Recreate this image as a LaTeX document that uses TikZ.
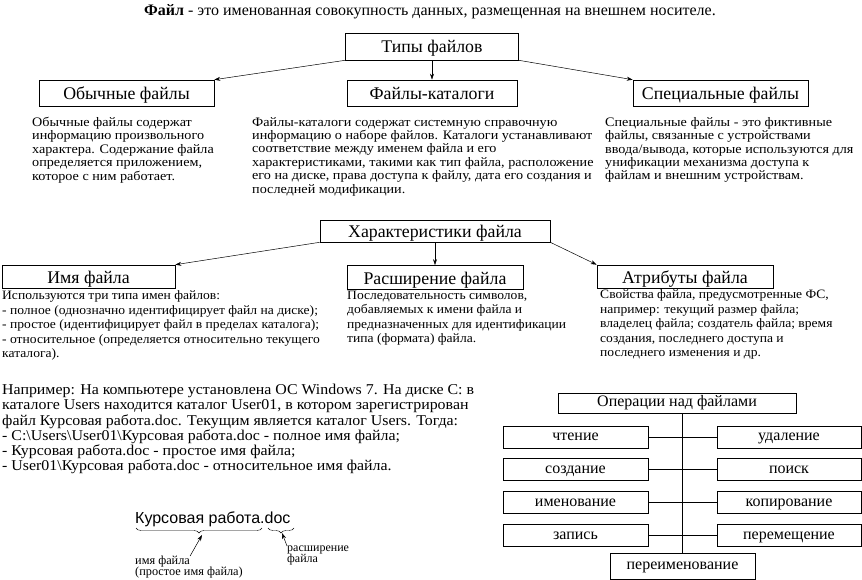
\documentclass[tikz,border=0pt]{standalone}
\usepackage{fontspec}
\setmainfont{Liberation Serif}
\newfontfamily\wideserif[FakeStretch=1.09]{Liberation Serif}
\newfontfamily\midserif[FakeStretch=1.06]{Liberation Serif}
\setsansfont{Liberation Sans}
\usetikzlibrary{arrows.meta,decorations.pathreplacing}

\tikzset{
  headbox/.style={draw,line width=0.6pt,inner sep=0pt,minimum height=#1,
    text height=14.5pt,text depth=1.5pt,
    font=\fontsize{17.8}{19}\selectfont},
  descr/.style={anchor=north west,inner sep=0pt,align=left,
    font=\wideserif\fontsize{13}{13.4}\selectfont},
  lowdescr/.style={descr,font=\midserif\fontsize{12.8}{14.6}\selectfont},
  opbox/.style={draw,line width=0.6pt,inner sep=0pt,minimum width=145pt,
    minimum height=22pt,text height=11pt,text depth=3.5pt,
    font=\fontsize{16}{18}\selectfont},
  pointer/.style={-{Stealth[length=6pt,width=4pt]},line width=0.5pt},
}

\begin{document}
\begin{tikzpicture}[x=1pt,y=-1pt]
  \useasboundingbox (0,0) rectangle (862,580);
  % definition
  \node[font=\fontsize{16}{18}\selectfont] (def) at (430,12)
    {\textbf{Файл} - это именованная совокупность данных, размещенная на внешнем носителе.};
  % file types
  \node[headbox=27pt,minimum width=173pt] (tipy) at (432,46.5) {Типы файлов};
  \node[headbox=26pt,minimum width=175pt] (obych) at (126.5,93) {Обычные файлы};
  \node[headbox=26pt,minimum width=170pt] (katal) at (432,93) {Файлы-каталоги};
  \node[headbox=26pt,minimum width=175pt] (spec) at (720.5,93) {Специальные файлы};
  \draw[pointer] (tipy.south west) -- (obych.north east);
  \draw[pointer] (tipy) -- (katal);
  \draw[pointer] (tipy.south east) -- (spec.north west);
  \node[descr] (obychtxt) at (32,117) {Обычные файлы содержат\\информацию произвольного\\характера. Содержание файла\\определяется приложением,\\которое с ним работает.};
  \node[descr] (kataltxt) at (252,117) {Файлы-каталоги содержат системную справочную\\информацию о наборе файлов. Каталоги устанавливают\\соответствие между именем файла и его\\характеристиками, такими как тип файла, расположение\\его на диске, права доступа к файлу, дата его создания и\\последней модификации.};
  \node[descr] (spectxt) at (605,117) {Специальные файлы - это фиктивные\\файлы, связанные с устройствами\\ввода/вывода, которые используются для\\унификации механизма доступа к\\файлам и внешним устройствам.};
  % file characteristics
  \node[headbox=22pt,minimum width=230pt] (harakt) at (435,231) {Характеристики файла};
  \node[headbox=23pt,minimum width=173pt] (imya) at (88.5,276.5) {Имя файла};
  \node[headbox=24pt,minimum width=176pt] (rassh) at (435,277.5) {Расширение файла};
  \node[headbox=23pt,minimum width=176pt] (atrib) at (685,276.5) {Атрибуты файла};
  \draw[pointer] (harakt.south west) -- (imya.north east);
  \draw[pointer] (harakt) -- (rassh);
  \draw[pointer] (harakt.south east) -- (atrib.north west);
  \node[lowdescr] (imyatxt) at (2,290.5) {Используются три типа имен файлов:\\- полное (однозначно идентифицирует файл на диске);\\- простое (идентифицирует файл в пределах каталога);\\- относительное (определяется относительно текущего\\каталога).};
  \node[lowdescr] (rasshtxt) at (347,290.5) {Последовательность символов,\\добавляемых к имени файла и\\предназначенных для идентификации\\типа (формата) файла.};
  \node[lowdescr] (atribtxt) at (600,289.5) {Свойства файла, предусмотренные ФС,\\например: текущий размер файла;\\владелец файла; создатель файла; время\\создания, последнего доступа и\\последнего изменения и др.};
  % example
  \node[descr,font=\midserif\fontsize{15}{15.2}\selectfont] (example) at (2,384) {Например: На компьютере установлена ОС Windows 7. На диске С: в\\каталоге Users находится каталог User01, в котором зарегистрирован\\файл Курсовая работа.doc. Текущим является каталог Users. Тогда:\\- C:\textbackslash Users\textbackslash User01\textbackslash Курсовая работа.doc - полное имя файла;\\- Курсовая работа.doc - простое имя файла;\\- User01\textbackslash Курсовая работа.doc - относительное имя файла.};
  % file name parts
  \node[anchor=base west,inner sep=0pt,font=\sffamily\fontsize{16}{18}\selectfont] (fname) at (135,523) {Курсовая работа.doc};
  \draw[decorate,decoration={brace,mirror,amplitude=5pt}] (136,528) -- (262,528);
  \draw[decorate,decoration={brace,mirror,amplitude=5pt}] (268,528) -- (294,528);
  \coordinate (nametip) at (202,535);
  \coordinate (exttip) at (282,533);
  \node[descr,font=\fontsize{12.3}{11}\selectfont] (namelbl) at (135,556) {имя файла};
  \node[descr,font=\fontsize{12.3}{11}\selectfont] (namelbl2) at (135,567) {(простое имя файла)};
  \node[descr,font=\fontsize{12}{11}\selectfont] (extlbl) at (287,546) {расширение\\файла};
  \draw[pointer] (namelbl.north east) -- (nametip);
  \draw[pointer] (extlbl.north west) -- (exttip);
  % operations on files
  \node[opbox,minimum width=238pt,minimum height=20pt] (ops) at (677,403) {Операции над файлами};
  \node[opbox] (read) at (575.5,437) {чтение};
  \node[opbox] (create) at (575.5,469.5) {создание};
  \node[opbox] (naming) at (575.5,502.5) {именование};
  \node[opbox] (write) at (575.5,535.5) {запись};
  \node[opbox,minimum width=144pt] (del) at (789,437) {удаление};
  \node[opbox,minimum width=144pt] (search) at (789,469.5) {поиск};
  \node[opbox,minimum width=144pt] (copy) at (789,502.5) {копирование};
  \node[opbox,minimum width=144pt] (move) at (789,535.5) {перемещение};
  \node[opbox,minimum height=26pt] (rename) at (682.5,566) {переименование};
  \draw[line width=0.5pt] (rename.north |- ops.south) -- (rename.north);
  \draw[line width=0.5pt] (read) -- (del);
  \draw[line width=0.5pt] (create) -- (search);
  \draw[line width=0.5pt] (naming) -- (copy);
  \draw[line width=0.5pt] (write) -- (move);
\end{tikzpicture}
\end{document}
